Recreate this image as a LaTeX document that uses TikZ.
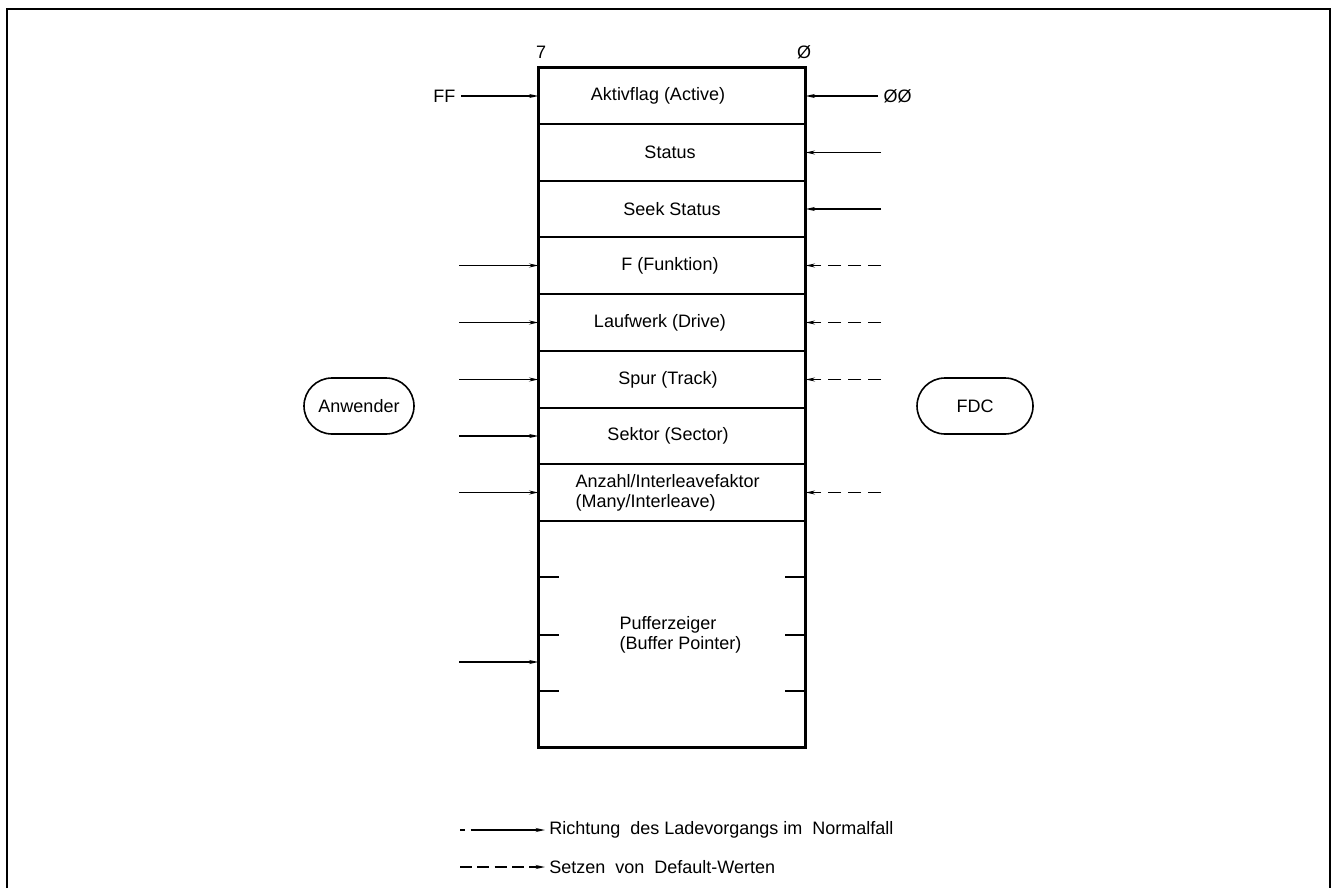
\documentclass[tikz,border=0pt]{standalone}
\usepackage{fontspec}
\setmainfont{Liberation Sans}
\usetikzlibrary{arrows.meta,shapes.misc}

\tikzset{
  rowbox/.style={rectangle, draw, line width=0.9pt, inner sep=0pt,
    minimum width=199.5pt, align=left},
  lbl/.style={inner sep=1pt, font=\fontsize{13.5}{16}\selectfont},
  arr/.style={line width=1.05pt, -{Stealth[length=7pt,width=3pt]}},
  dflt/.style={arr, dash pattern=on 10pt off 5pt},
  partner/.style={rounded rectangle, draw, line width=1.2pt, minimum height=42pt,
    inner sep=0pt, font=\fontsize{13.5}{16}\selectfont},
  tick/.style={line width=1.4pt}
}

\begin{document}
\begin{tikzpicture}[x=0.75pt, y=-0.75pt]
\useasboundingbox (0,0) rectangle (1333,888);

% sheet frame
\draw[line width=1.3pt] (7,888) -- (7,9) -- (1330,9) -- (1330,888);

% parameter block, one row per field
\node[rowbox, minimum height=42pt]    (r1) at (672,96)    {};
\node[rowbox, minimum height=42.75pt] (r2) at (672,152.5) {};
\node[rowbox, minimum height=42pt]    (r3) at (672,209)   {};
\node[rowbox, minimum height=42.75pt] (r4) at (672,265.5) {};
\node[rowbox, minimum height=42.75pt] (r5) at (672,322.5) {};
\node[rowbox, minimum height=42.75pt] (r6) at (672,379.5) {};
\node[rowbox, minimum height=42pt]    (r7) at (672,436)   {};
\node[rowbox, minimum height=42.75pt] (r8) at (672,492.5) {};
\node[rowbox, minimum height=169.5pt] (r9) at (672,634)   {};
\draw[line width=1.7pt] (r1.north west) rectangle (r9.south east);

% field names
\node[lbl] (t1) at (658,96)    {Aktivflag (Active)};
\node[lbl] (t2) at (670,152.5) {Status};
\node[lbl] (t3) at (672,209)   {Seek Status};
\node[lbl] (t4) at (670,265.5) {F (Funktion)};
\node[lbl] (t5) at (660,322.5) {Laufwerk (Drive)};
\node[lbl] (t6) at (668,379.5) {Spur (Track)};
\node[lbl] (t7) at (668,436)   {Sektor (Sector)};
\node[lbl, anchor=west, align=left, font=\fontsize{13.5}{15}\selectfont] (t8) at (574,492.5)
  {Anzahl/Interleavefaktor\\(Many/Interleave)};
\node[lbl, anchor=west, align=left, font=\fontsize{13.5}{15}\selectfont] (t9) at (618,635)
  {Pufferzeiger\\(Buffer Pointer)};

% bit numbers
\node[lbl] (b7) at (541,52) {7};
\node[lbl] (b0) at (804,52) {Ø};

% byte marks inside the pointer field
\foreach \yy in {577,635,691} {
  \draw[tick] (r9.west |- 0,\yy) -- ++(21,0);
  \draw[tick] (r9.east |- 0,\yy) -- ++(-21,0);
}

% user side
\node[partner, minimum width=82.5pt] (user) at (359,406) {Anwender};
\node[lbl, anchor=east, inner sep=4pt] (ff) at (461,96) {FF};
\draw[arr] (ff.east) -- (r1.west);
\foreach \k/\yy in {4/265.5, 5/322.5, 6/379.5, 7/436, 8/492.5} {
  \coordinate (u\k) at (459,\yy);
  \draw[arr] (u\k) -- (r\k.west);
}
\coordinate (u9) at (459,662);
\draw[arr] (u9) -- (u9 -| r9.west);

% controller side
\node[partner, minimum width=87pt] (fdc) at (975,406) {FDC};
\node[lbl, anchor=west, inner sep=4pt] (zz) at (878,96) {ØØ};
\draw[arr] (zz.west) -- (r1.east);
\foreach \k/\yy in {2/152.5, 3/209} {
  \coordinate (c\k) at (881,\yy);
  \draw[arr] (c\k) -- (r\k.east);
}
\foreach \k/\yy in {4/265.5, 5/322.5, 6/379.5, 8/492.5} {
  \coordinate (c\k) at (881,\yy);
  \draw[dflt] (c\k) -- (r\k.east);
}

% legend
\coordinate (la) at (460,830);
\coordinate (lb) at (545,830);
\coordinate (lc) at (460,867);
\coordinate (ld) at (545,867);
\draw[arr, dash pattern=on 4pt off 4pt on 200pt off 0pt] (la) -- (lb);
\draw[dflt, dash pattern=on 9pt off 4pt] (lc) -- (ld);
\node[lbl, anchor=west, inner sep=3pt] (leg1) at (lb) {Richtung \ des Ladevorgangs im \ Normalfall};
\node[lbl, anchor=west, inner sep=3pt] (leg2) at (ld) {Setzen \ von \ Default-Werten};
\end{tikzpicture}
\end{document}
